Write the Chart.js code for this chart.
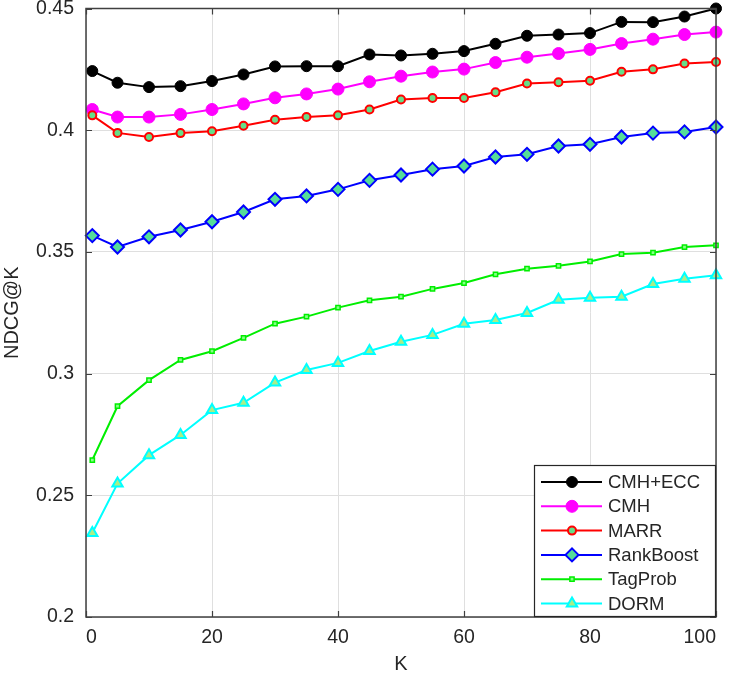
<!DOCTYPE html>
<html>
<head>
<meta charset="utf-8">
<script src="https://cdn.jsdelivr.net/npm/chart.js@4/dist/chart.umd.min.js"></script>
<style>
  html, body { margin: 0; padding: 0; background: #fff; }
  #wrap { width: 730px; height: 678px; position: relative; }
</style>
</head>
<body>
<div id="wrap"><canvas id="c" width="730" height="678"></canvas></div>
<script>
const K = [1, 5, 10, 15, 20, 25, 30, 35, 40, 45, 50, 55, 60, 65, 70, 75, 80, 85, 90, 95, 100];
const cmhEcc    = [0.4243, 0.4195, 0.4177, 0.4181, 0.4202, 0.4229, 0.4262, 0.4263, 0.4263, 0.4311, 0.4307, 0.4314, 0.4325, 0.4355, 0.4388, 0.4393, 0.4399, 0.4445, 0.4444, 0.4467, 0.4500];
const cmh       = [0.4085, 0.4054, 0.4054, 0.4065, 0.4085, 0.4108, 0.4133, 0.4149, 0.4169, 0.4199, 0.4222, 0.4239, 0.4251, 0.4278, 0.4300, 0.4315, 0.4332, 0.4356, 0.4374, 0.4393, 0.4403];
const marr      = [0.4061, 0.3989, 0.3972, 0.3988, 0.3996, 0.4018, 0.4043, 0.4054, 0.4061, 0.4085, 0.4126, 0.4132, 0.4132, 0.4156, 0.4192, 0.4197, 0.4203, 0.4240, 0.4250, 0.4274, 0.4280];
const rankBoost = [0.3567, 0.3520, 0.3562, 0.3590, 0.3624, 0.3664, 0.3716, 0.3730, 0.3757, 0.3794, 0.3816, 0.3840, 0.3853, 0.3890, 0.3901, 0.3935, 0.3942, 0.3972, 0.3988, 0.3993, 0.4013];
const tagProb   = [0.2645, 0.2866, 0.2973, 0.3056, 0.3092, 0.3147, 0.3205, 0.3234, 0.3271, 0.3301, 0.3316, 0.3348, 0.3372, 0.3408, 0.3431, 0.3443, 0.3461, 0.3491, 0.3497, 0.3520, 0.3527];
const dorm      = [0.2345, 0.2548, 0.2665, 0.2748, 0.2850, 0.2880, 0.2963, 0.3015, 0.3044, 0.3093, 0.3131, 0.3159, 0.3205, 0.3220, 0.3249, 0.3303, 0.3312, 0.3316, 0.3368, 0.3390, 0.3404];
const seriesNames = ['CMH+ECC', 'CMH', 'MARR', 'RankBoost', 'TagProb', 'DORM'];
const xTicks = [0, 20, 40, 60, 80, 100];
const yTicks = [0.2, 0.25, 0.3, 0.35, 0.4, 0.45];
const xTitle = 'K';
const yTitle = 'NDCG@K';

const FONT = "'Liberation Sans', Arial, Helvetica, sans-serif";
const AXIS_COLOR = '#404040';
const TEXT_COLOR = '#262626';

function pts(vals) { return K.map((k, i) => ({ x: k, y: vals[i] })); }

const styles = [
  { color: '#000000', fill: '#000000', style: 'circle',   r: 5.5, bw: 1 },
  { color: '#ff00ff', fill: '#ff00ff', style: 'circle',   r: 6,   bw: 1 },
  { color: '#ff0000', fill: '#66dd88', style: 'circle',   r: 4,   bw: 2 },
  { color: '#0000ff', fill: '#55dd99', style: 'rectRot',  r: 6.5, bw: 2 },
  { color: '#00ee00', fill: '#88ff88', style: 'rect',     r: 3,   bw: 1.5 },
  { color: '#00ffff', fill: '#aaee88', style: 'triangle', r: 6,   bw: 2 }
];
const seriesVals = [cmhEcc, cmh, marr, rankBoost, tagProb, dorm];

const datasets = seriesVals.map((v, i) => ({
  label: seriesNames[i],
  data: pts(v),
  borderColor: styles[i].color,
  backgroundColor: styles[i].fill,
  borderWidth: 2,
  pointStyle: styles[i].style,
  pointRadius: styles[i].r,
  pointBorderWidth: styles[i].bw,
  pointBorderColor: styles[i].color,
  pointBackgroundColor: styles[i].fill,
  tension: 0,
  fill: false,
  clip: 8,
  order: 5 - i
}));

const boxPlugin = {
  id: 'box',
  afterDatasetsDraw(chart) {
    const ctx = chart.ctx, a = chart.chartArea;
    const xs = chart.scales.x, ys = chart.scales.y;
    ctx.save();
    ctx.strokeStyle = AXIS_COLOR;
    ctx.lineWidth = 1.2;
    ctx.beginPath();
    xTicks.forEach(t => {
      const px = Math.round(xs.getPixelForValue(t)) + 0.5;
      ctx.moveTo(px, a.bottom); ctx.lineTo(px, a.bottom - 6);
      ctx.moveTo(px, a.top); ctx.lineTo(px, a.top + 6);
    });
    yTicks.forEach(t => {
      const py = Math.round(ys.getPixelForValue(t)) + 0.5;
      ctx.moveTo(a.left, py); ctx.lineTo(a.left + 6, py);
      ctx.moveTo(a.right, py); ctx.lineTo(a.right - 6, py);
    });
    ctx.stroke();
    ctx.lineWidth = 1.5;
    ctx.strokeRect(a.left, a.top, a.right - a.left, a.bottom - a.top);

    const w = 182, h = 152;
    const lx = a.right - w, ly = a.bottom - h;
    ctx.fillStyle = '#ffffff';
    ctx.fillRect(lx, ly, w, h);
    ctx.lineWidth = 1.2;
    ctx.strokeStyle = TEXT_COLOR;
    ctx.strokeRect(lx + 0.5, ly + 0.5, w - 1, h - 1);
    chart.data.datasets.forEach((ds, i) => {
      const cy = ly + 17 + i * 24.3;
      ctx.strokeStyle = ds.borderColor;
      ctx.lineWidth = 2;
      ctx.beginPath();
      ctx.moveTo(lx + 7, cy); ctx.lineTo(lx + 68, cy);
      ctx.stroke();
      ctx.fillStyle = ds.pointBackgroundColor;
      ctx.strokeStyle = ds.pointBorderColor;
      ctx.lineWidth = ds.pointBorderWidth;
      Chart.helpers.drawPoint(ctx, { pointStyle: ds.pointStyle, radius: ds.pointRadius, borderWidth: ds.pointBorderWidth, rotation: 0 }, lx + 38, cy);
      ctx.fillStyle = TEXT_COLOR;
      ctx.font = '18.5px ' + FONT;
      ctx.textAlign = 'left';
      ctx.textBaseline = 'middle';
      ctx.fillText(ds.label, lx + 74, cy + 1);
    });
    ctx.restore();
  }
};

new Chart(document.getElementById('c'), {
  type: 'line',
  data: { datasets },
  options: {
    responsive: false,
    animation: false,
    devicePixelRatio: 1,
    layout: { padding: { left: 0, right: 14, top: 7, bottom: 0 } },
    plugins: { legend: { display: false }, tooltip: { enabled: false } },
    scales: {
      x: {
        type: 'linear',
        min: 0, max: 100,
        afterBuildTicks(s) { s.ticks = xTicks.map(v => ({ value: v })); },
        afterFit(s) { s.height = 61; s.paddingLeft = 0; s.paddingRight = 0; },
        grid: { color: '#dfdfdf', lineWidth: 1, drawTicks: false },
        border: { display: false },
        ticks: { color: TEXT_COLOR, font: { family: FONT, size: 19.5 }, padding: 9, maxRotation: 0, align: 'inner',
                 callback: v => String(v) },
        title: { display: true, text: xTitle, color: TEXT_COLOR, font: { family: FONT, size: 20 }, padding: { top: 0, bottom: 2 } }
      },
      y: {
        type: 'linear',
        min: 0.2, max: 0.45,
        afterBuildTicks(s) { s.ticks = yTicks.map(v => ({ value: v })); },
        afterFit(s) { s.width = 86; s.paddingTop = 0; s.paddingBottom = 0; },
        grid: { color: '#dfdfdf', lineWidth: 1, drawTicks: false },
        border: { display: false },
        ticks: { color: TEXT_COLOR, font: { family: FONT, size: 19.5 }, padding: 12,
                 callback: v => String(Math.round(v * 100) / 100) },
        title: { display: true, text: yTitle, color: TEXT_COLOR, font: { family: FONT, size: 20 }, padding: { top: 0, bottom: 0 } }
      }
    }
  },
  plugins: [boxPlugin]
});
</script>
</body>
</html>
